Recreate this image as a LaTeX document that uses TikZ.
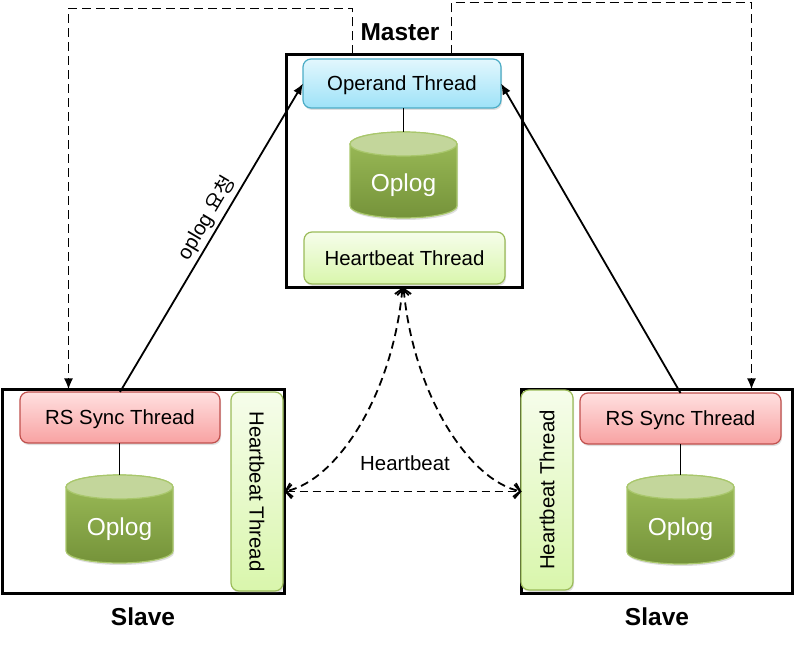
\documentclass[tikz,border=0pt]{standalone}
\usepackage{fontspec}
\setmainfont{Liberation Sans}
\newfontfamily\krfont{Noto Sans CJK KR}
\usetikzlibrary{arrows.meta,shadows,calc}
\definecolor{opTop}{HTML}{E2F7FD}
\definecolor{opBot}{HTML}{9EE2F8}
\definecolor{opEdge}{HTML}{4BACC6}
\definecolor{rsTop}{HTML}{FFE0E0}
\definecolor{rsBot}{HTML}{F8A2A2}
\definecolor{rsEdge}{HTML}{C0504D}
\definecolor{hbTop}{HTML}{F6FDEB}
\definecolor{hbBot}{HTML}{D9F6AC}
\definecolor{hbEdge}{HTML}{9BBB59}
\definecolor{cylTop}{HTML}{9DBD59}
\definecolor{cylBot}{HTML}{75933A}
\definecolor{cylCap}{HTML}{C3D69B}
\definecolor{cylEdge}{HTML}{A9C76C}
\newcommand\oplogcyl[4]{%
  \shade[top color=cylTop, bottom color=cylBot, draw=cylEdge, line width=1.2pt, drop shadow={shadow xshift=1pt,shadow yshift=-2pt,opacity=0.25}]
    (#2-53.5,#3-12) -- (#2-53.5,#4+12)
    arc[start angle=180,end angle=360,x radius=53.5,y radius=12]
    -- (#2+53.5,#3-12)
    arc[start angle=0,end angle=180,x radius=53.5,y radius=12] -- cycle;
  \filldraw[fill=cylCap, draw=cylEdge, line width=1.2pt] (#2,#3-12) ellipse[x radius=53.5, y radius=12];
  \node[oplogtxt] (#1) at (#2,{(#3+#4)/2-10}) {Oplog};
  \coordinate (#1top) at (#2,#3);
}
\begin{document}
\begin{tikzpicture}[x=1pt,y=1pt,
  txt/.style={font=\fontsize{20.4}{24}\selectfont},
  big/.style={font=\bfseries\fontsize{24.5}{28}\selectfont},
  oplogtxt/.style={font=\fontsize{24.5}{28}\selectfont, text=white},
  gbox/.style={draw=black, line width=3pt, inner sep=0pt, outer sep=0pt},
  tbox/.style={txt, text depth=0pt, rounded corners=8pt, line width=1.2pt, inner sep=0pt, outer sep=0pt,
     drop shadow={shadow xshift=1pt,shadow yshift=-2pt,opacity=0.25}},
  opbox/.style={tbox, draw=opEdge, top color=opTop, bottom color=opBot},
  rsbox/.style={tbox, draw=rsEdge, top color=rsTop, bottom color=rsBot},
  hbbox/.style={tbox, draw=hbEdge, top color=hbTop, bottom color=hbBot},
  link/.style={line width=1.8pt},
  solidarrow/.style={line width=1.8pt, -{Latex[length=11pt,width=9pt]}},
  dasharrow/.style={line width=1.8pt, dash pattern=on 9pt off 5pt, -{Latex[length=11pt,width=9pt]}},
  hbarrow/.style={line width=1.8pt, dash pattern=on 8pt off 5pt,
     {Straight Barb[length=6pt,width=14pt]}-{Straight Barb[length=6pt,width=14pt]}}
]
\useasboundingbox (0,0) rectangle (795,646);

% Master
\node[gbox, minimum width=236, minimum height=233] (master) at (404.5,475) {};
\node[big] (mlabel) at (400,614) {Master};
\node[opbox, minimum width=198, minimum height=49] (op) at (402,562.5) {Operand Thread};
\oplogcyl{mcyl}{403.5}{514}{428}
\node[hbbox, minimum width=201, minimum height=52] (mhb) at (404.5,388) {Heartbeat Thread};
\draw[link] (mcyltop) -- (mcyltop |- op.south);

% Left slave
\node[gbox, minimum width=282, minimum height=204] (lslave) at (143.5,154.5) {};
\node[big] (llabel) at (143,29) {Slave};
\node[rsbox, minimum width=200, minimum height=51] (lrs) at (120,228.5) {RS Sync Thread};
\oplogcyl{lcyl}{119.5}{171}{83}
\node[hbbox, rotate=-90, minimum width=199, minimum height=52] (lhb) at (257,154.5) {Heartbeat Thread};
\draw[link] (lcyltop) -- (lcyltop |- lrs.south);

% Right slave
\node[gbox, minimum width=271, minimum height=204] (rslave) at (657,154.5) {};
\node[big] (rlabel) at (657,29) {Slave};
\node[rsbox, minimum width=201, minimum height=51] (rrs) at (680.5,227.5) {RS Sync Thread};
\oplogcyl{rcyl}{680.5}{171}{82}
\node[hbbox, rotate=90, minimum width=200, minimum height=52] (rhb) at (547,156) {Heartbeat Thread};
\draw[link] (rcyltop) -- (rcyltop |- rrs.south);

% oplog requests
\draw[solidarrow] (lrs.north) -- node[txt, sloped, above, pos=0.54, inner sep=3pt] (req) {oplog {\krfont 요청}} (op.west);
\draw[solidarrow] (rrs.north) -- (op.east);

% dashed feedback
\draw[dasharrow] ([xshift=66pt]master.north west) -- ++(0,46) -| ([xshift=66pt]lslave.north west);
\draw[dasharrow] ([xshift=165pt]master.north west) -- ++(0,52) -| ([xshift=230pt]rslave.north west);

% heartbeats
\draw[hbarrow] ([xshift=-2pt]master.south) .. controls +(-10,-108) and +(52,11) .. (lslave.east);
\draw[hbarrow] ([xshift=-1pt]master.south) .. controls +(10,-108) and +(-52,11) .. (rslave.west);
\draw[hbarrow] (lslave.east) -- (rslave.west);
\node[txt] (hblabel) at (405,183) {Heartbeat};
\end{tikzpicture}
\end{document}
